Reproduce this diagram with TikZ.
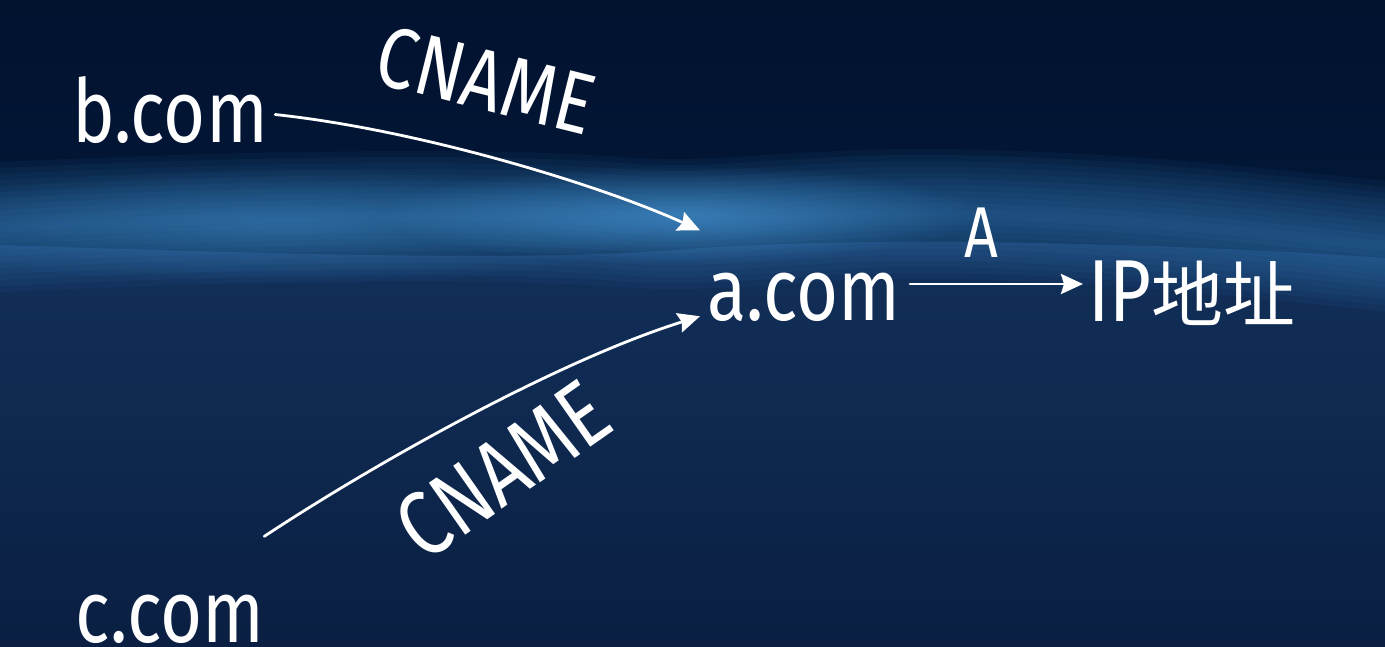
\documentclass[tikz,border=0pt]{standalone}
\usepackage{fontspec}
\setmainfont{Fira Sans}[FakeStretch=0.82]
\newfontfamily\cjk{Noto Sans CJK SC}
\usetikzlibrary{arrows.meta,fadings}
\definecolor{bgtop}{HTML}{01122F}
\definecolor{bgmid}{HTML}{031838}
\definecolor{lowtop}{HTML}{12305A}
\definecolor{lowbot}{HTML}{0A1F42}
\definecolor{bandc}{HTML}{3A86C6}
\definecolor{glowc}{HTML}{4A9CDC}
\tikzfading[name=softglow, inner color=transparent!0, outer color=transparent!100]
\tikzset{
  lbl/.style={text=white, inner sep=0pt, font=\fontsize{88}{90}\selectfont},
  rel/.style={text=white, inner sep=0pt, font=\fontsize{86}{90}\selectfont},
  chalk/.style={draw=white!93, line width=2.8pt, line cap=round,
    -{Stealth[length=22pt, width=20pt, inset=3pt]}},
}
\begin{document}
\begin{tikzpicture}[x=1pt,y=-1pt]
\useasboundingbox (0,0) rectangle (1385,647);
% background
\shade[top color=bgtop, bottom color=bgmid] (0,0) rectangle (1385,260);
\shade[top color=lowtop, bottom color=lowbot]
  (0,245) .. controls (300,255) and (550,262) .. (700,248)
  .. controls (900,235) and (1200,245) .. (1385,258)
  -- (1385,647) -- (0,647) -- cycle;
% light band (soft, by many stacked strokes)
\foreach \w in {130,118,...,10}{
  \draw[bandc, line width=\w pt, opacity=0.065, line cap=butt]
    (-20,228) .. controls (250,215) and (480,212) .. (620,222)
    .. controls (720,230) and (800,212) .. (950,214)
    .. controls (1150,218) and (1300,238) .. (1405,248);
}
% soft glows
\fill[glowc, opacity=0.6, path fading=softglow] (680,214) ellipse (300 and 50);
\fill[glowc, opacity=0.35, path fading=softglow] (280,226) ellipse (380 and 60);
% nodes
\node[lbl, anchor=base west] (b) at (72,143) {b.com};
\node[lbl, anchor=base west] (c) at (75,642) {c.com};
\node[lbl, anchor=base west] (a) at (707,320) {a.com};
\node[anchor=base west, inner sep=0pt, text=white] (ip) at (1088,322)
  {\fontsize{88}{90}\selectfont IP\cjk\fontsize{72}{80}\selectfont 地址};
% connector end points
\coordinate (bout) at ([shift={(7,4)}]b.east);
\coordinate (ain1) at ([shift={(-7,-42)}]a.north west);
\coordinate (cout) at ([shift={(0,-58)}]c.north east);
\coordinate (ain2) at ([shift={(-7,-5)}]a.south west);
\coordinate (aout) at (910,284);
\coordinate (ipin) at ([xshift=-5pt]ip.west |- aout);
% connectors
\draw[chalk] (bout) .. controls (420,130) and (600,185) .. (ain1);
\draw[chalk] (cout) .. controls (380,460) and (560,360) .. (ain2);
\draw[chalk] (aout) -- (ipin);
% labels
\node[rel, rotate=-14] (l1) at (486,80) {CNAME};
\node[rel, rotate=35, font=\fontsize{92}{96}\selectfont] (l2) at (503,470) {CNAME};
\node[text=white, inner sep=0pt, anchor=base, font=\fontsize{72}{80}\selectfont] (l3) at (981,258) {A};
\end{tikzpicture}
\end{document}
